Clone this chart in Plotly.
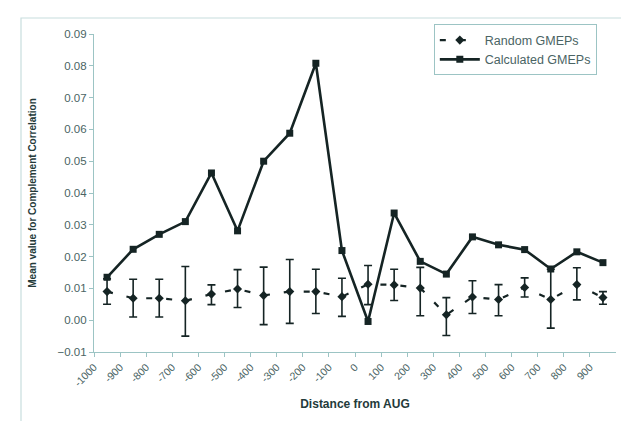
import plotly.graph_objects as go

bins = [-1000, -900, -800, -700, -600, -500, -400, -300, -200, -100,
        0, 100, 200, 300, 400, 500, 600, 700, 800, 900]
tick_labels = [str(b) for b in bins]

calculated = [0.0135, 0.0223, 0.0270, 0.0310, 0.0463, 0.0281, 0.0500, 0.0588, 0.0808, 0.0219,
              -0.0004, 0.0337, 0.0185, 0.0145, 0.0262, 0.0237, 0.0222, 0.0161, 0.0215, 0.0181]
random_mean = [0.0090, 0.0069, 0.0069, 0.0061, 0.0082, 0.0098, 0.0078, 0.0090, 0.0090, 0.0074,
               0.0113, 0.0111, 0.0101, 0.0017, 0.0073, 0.0065, 0.0103, 0.0065, 0.0112, 0.0071]
random_hi = [0.0130, 0.0129, 0.0129, 0.0169, 0.0111, 0.0159, 0.0167, 0.0191, 0.0160, 0.0132,
             0.0172, 0.0160, 0.0166, 0.0071, 0.0124, 0.0112, 0.0133, 0.0160, 0.0165, 0.0090]
random_lo = [0.0050, 0.0010, 0.0010, -0.0050, 0.0049, 0.0040, -0.0014, -0.0010, 0.0021, 0.0012,
             0.0049, 0.0062, 0.0014, -0.0048, 0.0021, 0.0014, 0.0073, -0.0025, 0.0064, 0.0050]

bin_width = 100
x_center = [b + bin_width / 2 for b in bins]
err_plus = [h - m for h, m in zip(random_hi, random_mean)]
err_minus = [m - l for m, l in zip(random_mean, random_lo)]

ink = "#152424"
axis_col = "#9cc4c4"
text_col = "#4a6464"

fig = go.Figure()
fig.add_trace(go.Scatter(
    x=x_center, y=random_mean, name="Random GMEPs", mode="lines+markers",
    line=dict(color=ink, width=2.2, dash="6px,14px"),
    marker=dict(symbol="diamond", size=7, color=ink),
    error_y=dict(type="data", array=err_plus, arrayminus=err_minus,
                 color=ink, thickness=1.6, width=4),
))
fig.add_trace(go.Scatter(
    x=x_center, y=calculated, name="Calculated GMEPs", mode="lines+markers",
    line=dict(color=ink, width=2.6),
    marker=dict(symbol="square", size=7, color=ink),
))

fig.update_layout(
    width=629, height=421,
    margin=dict(l=86, r=21, t=26, b=77),
    paper_bgcolor="white", plot_bgcolor="white",
    font=dict(family="Liberation Sans, Arial, sans-serif", size=10, color=text_col),
    showlegend=True,
    legend=dict(x=0.651, y=1.03, xanchor="left", yanchor="top",
                bordercolor=axis_col, borderwidth=1, bgcolor="white",
                font=dict(size=12.5, color=text_col),
                tracegroupgap=0, itemwidth=40),
    shapes=[dict(type="rect", xref="paper", yref="paper",
                 x0=-73 / 522, x1=613 / 522, y0=-77 / 318, y1=(344 - 10) / 318,
                 line=dict(color="#c8dede", width=1.2))],
)
fig.update_xaxes(
    range=[-1000, 1000], tickvals=bins, ticktext=tick_labels, tickangle=-45,
    showgrid=False, zeroline=False, showline=True, linecolor=axis_col, linewidth=1.2,
    ticks="outside", ticklen=4, tickcolor=axis_col,
    tickfont=dict(size=10.5, color=text_col),
    title=dict(text="<b>Distance from AUG</b>", font=dict(size=12, color="#243a3a"), standoff=12),
)
fig.update_yaxes(
    range=[-0.01, 0.09], dtick=0.01, tickformat=".2f",
    showgrid=False, zeroline=False, showline=True, linecolor=axis_col, linewidth=1.2,
    ticks="outside", ticklen=4, tickcolor=axis_col,
    tickfont=dict(size=11.5, color=text_col),
    title=dict(text="<b>Mean value for Complement Correlation</b>", font=dict(size=10, color="#243a3a"), standoff=18),
)

fig.write_html("out.html")
